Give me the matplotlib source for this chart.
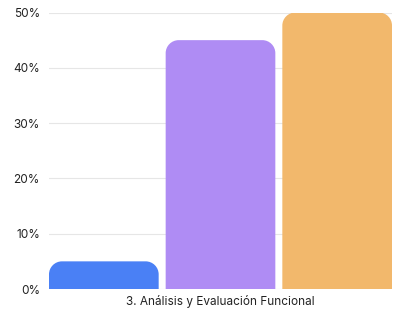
import matplotlib
matplotlib.use("Agg")
import matplotlib.pyplot as plt
from matplotlib.patches import PathPatch
from matplotlib.path import Path
from matplotlib.ticker import FuncFormatter

plt.rcParams['font.family'] = ['Inter', 'DejaVu Sans']

category = "3. Análisis y Evaluación Funcional"
series_values = [5, 45, 50]
series_colors = ["#4a80f5", "#af8cf4", "#f2b86c"]
yticks = [0, 10, 20, 30, 40, 50]

fig = plt.figure(figsize=(4.08, 3.19), dpi=100)
ax = fig.add_axes([49/408, 1-289/319, (392-49)/408, (289-12.5)/319])

width = 0.94
xs = [-1, 0, 1]
ax.set_xlim(-1 - width/2, 1 + width/2)
ax.set_ylim(0, 50)

bars = ax.bar(xs, series_values, width=width, color=series_colors)
fig.canvas.draw()
ext = ax.get_window_extent()
x_per_px = (ax.get_xlim()[1]-ax.get_xlim()[0]) / ext.width
y_per_px = (ax.get_ylim()[1]-ax.get_ylim()[0]) / ext.height
r_px = 13
K = 0.5523
for b in bars:
    x0, y0 = b.get_x(), b.get_y()
    w, h = b.get_width(), b.get_height()
    col = b.get_facecolor()
    b.remove()
    rx = min(r_px * x_per_px, w/2)
    ry = min(r_px * y_per_px, h)
    x1, y1 = x0 + w, y0 + h
    verts = [
        (x0, y0), (x0, y1 - ry),
        (x0, y1 - ry + K*ry), (x0 + rx - K*rx, y1), (x0 + rx, y1),
        (x1 - rx, y1),
        (x1 - rx + K*rx, y1), (x1, y1 - ry + K*ry), (x1, y1 - ry),
        (x1, y0), (x0, y0),
    ]
    codes = [Path.MOVETO, Path.LINETO,
             Path.CURVE4, Path.CURVE4, Path.CURVE4,
             Path.LINETO,
             Path.CURVE4, Path.CURVE4, Path.CURVE4,
             Path.LINETO, Path.CLOSEPOLY]
    ax.add_patch(PathPatch(Path(verts, codes), facecolor=col, edgecolor='none', zorder=3))

ax.set_yticks(yticks)
ax.yaxis.set_major_formatter(FuncFormatter(lambda v, p: f"{int(v)}%"))
ax.set_xticks([0])
ax.set_xticklabels([category])
ax.grid(axis='y', color='#e6e6e6', linewidth=0.8, zorder=0)
ax.set_axisbelow(True)
for s in ax.spines.values():
    s.set_visible(False)
ax.tick_params(axis='both', length=0, labelsize=8.5, colors='#222222')
ax.tick_params(axis='y', pad=6.5)
ax.tick_params(axis='x', pad=4)

fig.savefig("out.png", dpi=100)
